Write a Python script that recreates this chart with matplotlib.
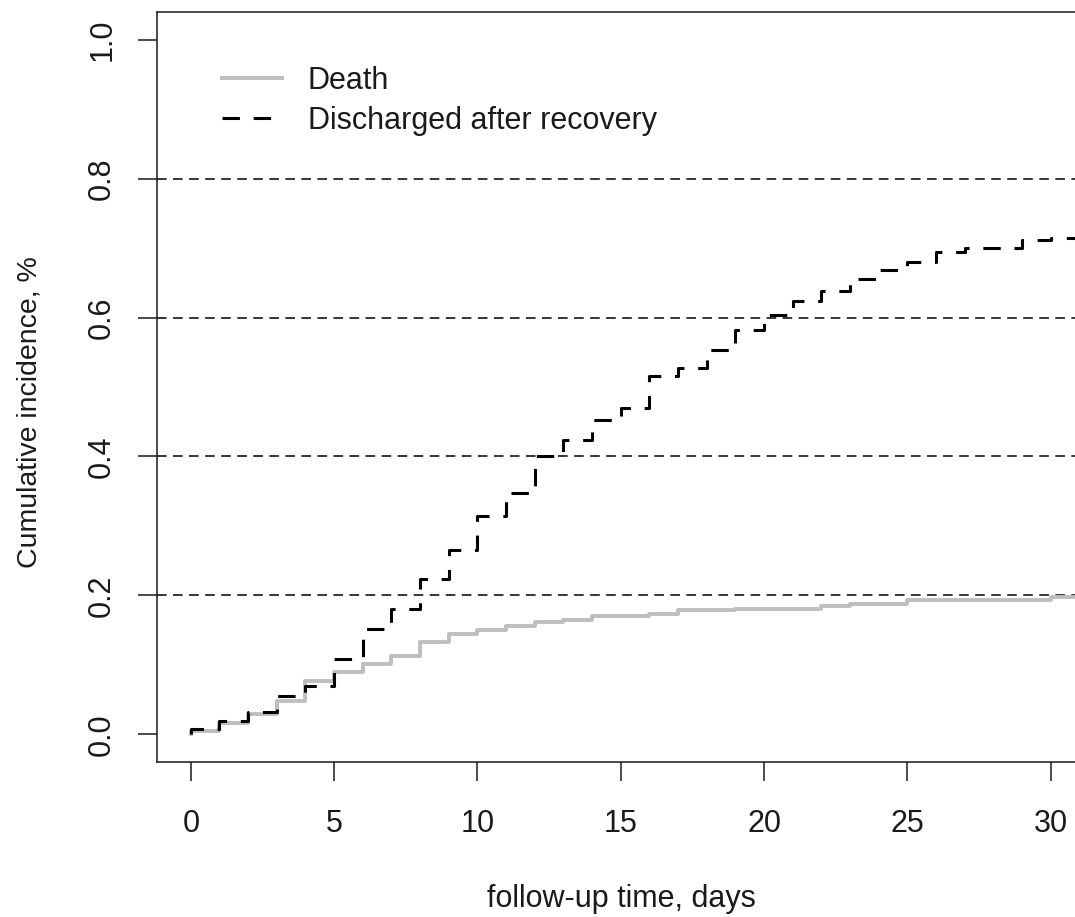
import matplotlib
matplotlib.use("Agg")
import matplotlib.pyplot as plt

plt.rcParams['font.family'] = ['Liberation Sans', 'DejaVu Sans']

# follow-up day at which each step starts (day 0 listed twice: curve starts at 0)
days = [0, 0, 1, 2, 3, 4, 5, 6, 7, 8, 9, 10, 11, 12, 13, 14, 15, 16, 17, 18, 19,
        20, 21, 22, 23, 24, 25, 26, 27, 28, 29, 30, 31]

death = [0.0, 0.005, 0.016, 0.029, 0.048, 0.077, 0.089, 0.101, 0.113, 0.133, 0.144,
         0.150, 0.156, 0.162, 0.164, 0.170, 0.170, 0.173, 0.179, 0.179, 0.181,
         0.181, 0.181, 0.185, 0.188, 0.188, 0.193, 0.193, 0.193, 0.193, 0.193,
         0.197, 0.197]

discharged = [0.0, 0.007, 0.019, 0.032, 0.055, 0.070, 0.109, 0.152, 0.180, 0.224, 0.265,
              0.314, 0.348, 0.400, 0.423, 0.452, 0.470, 0.516, 0.528, 0.553, 0.582,
              0.603, 0.624, 0.638, 0.655, 0.669, 0.680, 0.695, 0.700, 0.700, 0.712,
              0.715, 0.715]

grid_levels = [0.2, 0.4, 0.6, 0.8]
xticks = [0, 5, 10, 15, 20, 25, 30]
yticks = [0.0, 0.2, 0.4, 0.6, 0.8, 1.0]
ytick_labels = ["0.0", "0.2", "0.4", "0.6", "0.8", "1.0"]

W, H = 1075, 917
fig = plt.figure(figsize=(W / 100, H / 100), dpi=100)
ax = fig.add_axes([157 / W, 1 - 762 / H, (W - 157) / W, (762 - 12) / H])

fs = 22
ink = '#1a1a1a'

for g in grid_levels:
    ax.axhline(g, color='black', lw=1.1, dashes=(6.3, 4.2), zorder=1)

ax.step(days, death, where='post', color='#bebebe', lw=2.8, label='Death', zorder=2)
ax.step(days, discharged, where='post', color='black', lw=2.2,
        dashes=(5.7, 4.5), label='Discharged after recovery', zorder=3)

ax.set_xlim(-1.18, 30.85)
ax.set_ylim(-0.04, 1.04)

ax.set_xticks(xticks)
ax.set_yticks(yticks)
ax.set_yticklabels(ytick_labels, rotation=90, va='center')
ax.tick_params(axis='both', direction='out', length=13.7, width=1.1,
               color=ink, labelcolor=ink, labelsize=fs)
ax.tick_params(axis='x', pad=20)
ax.tick_params(axis='y', pad=15)

for side in ['left', 'bottom', 'top']:
    ax.spines[side].set_linewidth(1.1)
    ax.spines[side].set_color(ink)
ax.spines['right'].set_visible(False)

fig.text(621 / W, 1 - 907 / H, 'follow-up time, days', ha='center', va='baseline',
         fontsize=fs, color=ink)
fig.text(37 / W, 1 - 412 / H, 'Cumulative incidence, %', rotation=90,
         rotation_mode='anchor', ha='center', va='baseline', fontsize=20.5, color=ink)

leg = ax.legend(loc='upper left', bbox_to_anchor=(222 / W, 1 - 66 / H),
                bbox_transform=fig.transFigure, frameon=False, fontsize=fs,
                handlelength=1.95, handletextpad=0.85, labelspacing=0.32,
                borderpad=0, borderaxespad=0)
for t in leg.get_texts():
    t.set_color(ink)

fig.savefig('out.png', dpi=100)
